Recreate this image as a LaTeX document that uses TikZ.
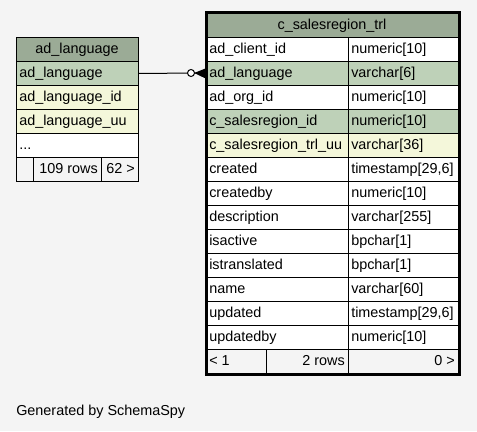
\documentclass[tikz,border=0pt]{standalone}
\usepackage{fontspec}
\setmainfont{Liberation Sans}
\definecolor{bg}{HTML}{F4F4F4}
\definecolor{hdr}{HTML}{9BAB96}
\definecolor{keyc}{HTML}{BED1B8}
\definecolor{ylw}{HTML}{F4F7DA}
\tikzset{
  cellbox/.style={draw=black, line width=0.75pt, anchor=north west, inner sep=0pt, minimum height=18pt},
  celltext/.style={inner sep=0pt, font=\fontsize{10.8}{12}\selectfont, text=black},
  thickframe/.style={draw=black, line width=2.25pt},
  rel/.style={draw=black, line width=0.75pt},
}
% name, x, y(top), w, fill, text
\newcommand\cellL[6]{\node[cellbox, fill=#5, minimum width=#4*0.75pt] (#1) at (#2,#3) {};
  \node[celltext, anchor=base west] (#1t) at (#2+3,#3+16.5) {#6};}
\newcommand\cellR[6]{\node[cellbox, fill=#5, minimum width=#4*0.75pt] (#1) at (#2,#3) {};
  \node[celltext, anchor=base east] (#1t) at (#2+#4-3,#3+16.5) {#6};}
\newcommand\cellC[6]{\node[cellbox, fill=#5, minimum width=#4*0.75pt] (#1) at (#2,#3) {};
  \node[celltext, anchor=base] (#1t) at (#2+#4/2,#3+16.5) {#6};}
\begin{document}
\begin{tikzpicture}[x=0.75pt,y=-0.75pt]
\useasboundingbox[fill=bg] (0,0) rectangle (477,431);
% left table
\cellC{lh}{16}{37}{122}{hdr}{ad\_language}
\cellL{l1}{16}{61}{122}{keyc}{ad\_language}
\cellL{l2}{16}{85}{122}{ylw}{ad\_language\_id}
\cellL{l3}{16}{109}{122}{ylw}{ad\_language\_uu}
\cellL{l4}{16}{133}{122}{white}{...}
\cellL{lb1}{16}{157}{17}{bg}{}
\cellR{lb2}{33}{157}{68}{bg}{109 rows}
\cellR{lb3}{101}{157}{37}{bg}{62 >}
% right table
\cellC{rh}{206}{13}{252}{hdr}{c\_salesregion\_trl}
\cellL{r1a}{206}{37}{142}{white}{ad\_client\_id}\cellL{r1b}{348}{37}{110}{white}{numeric[10]}
\cellL{r2a}{206}{61}{142}{keyc}{ad\_language}\cellL{r2b}{348}{61}{110}{keyc}{varchar[6]}
\cellL{r3a}{206}{85}{142}{white}{ad\_org\_id}\cellL{r3b}{348}{85}{110}{white}{numeric[10]}
\cellL{r4a}{206}{109}{142}{keyc}{c\_salesregion\_id}\cellL{r4b}{348}{109}{110}{keyc}{numeric[10]}
\cellL{r5a}{206}{133}{142}{ylw}{c\_salesregion\_trl\_uu}\cellL{r5b}{348}{133}{110}{ylw}{varchar[36]}
\cellL{r6a}{206}{157}{142}{white}{created}\cellL{r6b}{348}{157}{110}{white}{timestamp[29,6]}
\cellL{r7a}{206}{181}{142}{white}{createdby}\cellL{r7b}{348}{181}{110}{white}{numeric[10]}
\cellL{r8a}{206}{205}{142}{white}{description}\cellL{r8b}{348}{205}{110}{white}{varchar[255]}
\cellL{r9a}{206}{229}{142}{white}{isactive}\cellL{r9b}{348}{229}{110}{white}{bpchar[1]}
\cellL{r10a}{206}{253}{142}{white}{istranslated}\cellL{r10b}{348}{253}{110}{white}{bpchar[1]}
\cellL{r11a}{206}{277}{142}{white}{name}\cellL{r11b}{348}{277}{110}{white}{varchar[60]}
\cellL{r12a}{206}{301}{142}{white}{updated}\cellL{r12b}{348}{301}{110}{white}{timestamp[29,6]}
\cellL{r13a}{206}{325}{142}{white}{updatedby}\cellL{r13b}{348}{325}{110}{white}{numeric[10]}
\cellL{rb1}{206}{349}{60}{bg}{< 1}
\cellR{rb2}{266}{349}{82}{bg}{2 rows}
\cellR{rb3}{348}{349}{110}{bg}{0 >}
\draw[thickframe] (rh.north west) rectangle (rb3.south east);
% relationship
\coordinate (cf) at (195.5,73);
\draw[rel] (l1.east) -- (cf);
\draw[rel, fill=white] (191,73) circle (3.5);
\draw[rel, fill=black] (cf) -- ([yshift=3.5pt]r2a.west) -- ([yshift=-3.5pt]r2a.west) -- cycle;
\draw[rel] (cf) -- (r2a.west);
% footer
\node[celltext, anchor=base west] (gen) at (16,415) {Generated by SchemaSpy};
\end{tikzpicture}
\end{document}
